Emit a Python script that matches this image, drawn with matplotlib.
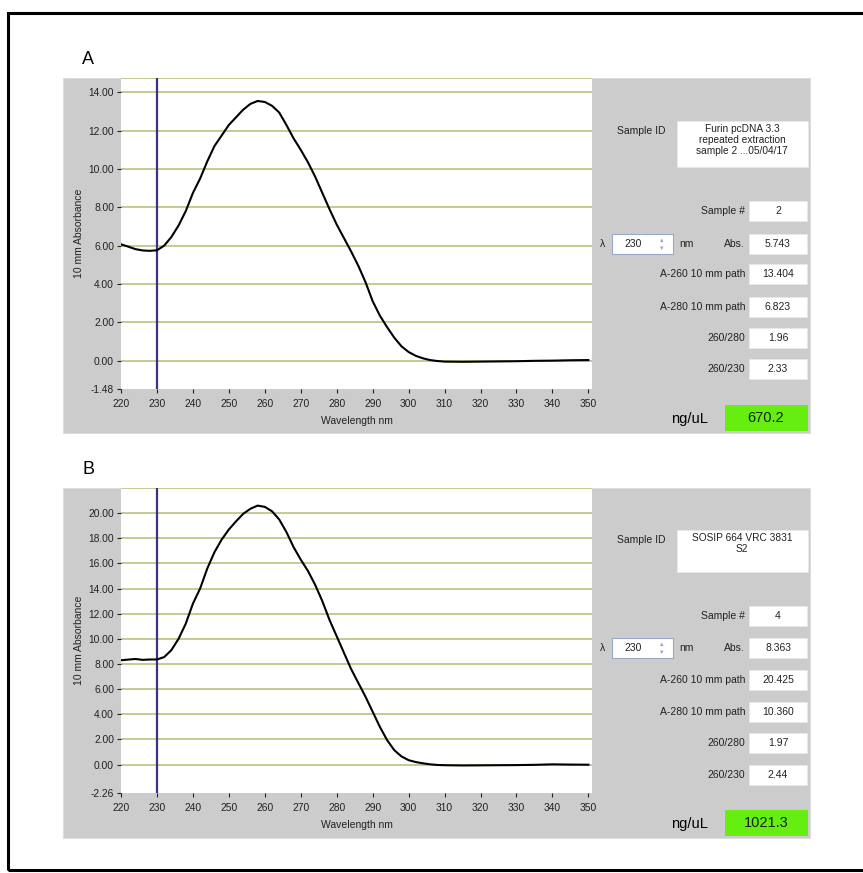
import numpy as np
import matplotlib
matplotlib.use("Agg")
import matplotlib.pyplot as plt
from matplotlib.patches import Rectangle

plt.rcParams['font.family'] = ['Liberation Sans', 'DejaVu Sans']

# Spectrum A: Furin pcDNA 3.3
wl_a = [220, 222, 224, 226, 228, 230, 232, 234, 236, 238, 240, 242, 244, 246, 248,
        250, 252, 254, 256, 258, 260, 262, 264, 266, 268, 270, 272, 274, 276, 278,
        280, 282, 284, 286, 288, 290, 292, 294, 296, 298, 300, 302, 304, 306, 308,
        310, 315, 320, 325, 330, 335, 340, 345, 350]
abs_a = [6.07, 5.95, 5.82, 5.75, 5.73, 5.76, 6.0, 6.45, 7.05, 7.8, 8.75, 9.5, 10.4, 11.2, 11.75,
         12.3, 12.7, 13.1, 13.4, 13.55, 13.5, 13.3, 12.95, 12.3, 11.6, 11.0, 10.35, 9.6, 8.75, 7.9,
         7.1, 6.4, 5.7, 4.95, 4.1, 3.1, 2.35, 1.75, 1.2, 0.75, 0.45, 0.25, 0.12, 0.03, -0.02,
         -0.05, -0.06, -0.05, -0.04, -0.03, -0.01, 0.0, 0.02, 0.03]

# Spectrum B: SOSIP 664 VRC 3831 S2
wl_b = wl_a
abs_b = [8.3, 8.35, 8.4, 8.33, 8.36, 8.36, 8.55, 9.1, 10.0, 11.2, 12.8, 14.0, 15.6, 16.9, 17.9,
         18.7, 19.35, 19.95, 20.35, 20.6, 20.5, 20.15, 19.5, 18.5, 17.3, 16.3, 15.4, 14.3, 13.0, 11.5,
         10.2, 8.9, 7.6, 6.5, 5.4, 4.2, 3.0, 1.95, 1.15, 0.65, 0.35, 0.2, 0.1, 0.02, -0.03,
         -0.05, -0.07, -0.06, -0.05, -0.04, -0.02, 0.02, 0.0, -0.01]

x_ticks = [220, 230, 240, 250, 260, 270, 280, 290, 300, 310, 320, 330, 340, 350]
y_ticks_a = [-1.48, 0, 2, 4, 6, 8, 10, 12, 14]
y_ticks_b = [-2.26, 0, 2, 4, 6, 8, 10, 12, 14, 16, 18, 20]
ylim_a = (-1.48, 14.75)
ylim_b = (-2.26, 22.0)
cursor_nm = 230

sample_id_a = "Furin pcDNA 3.3\nrepeated extraction\nsample 2 ...05/04/17"
sample_id_b = "SOSIP 664 VRC 3831\nS2"
row_labels = ["Sample #", "Abs.", "A-260 10 mm path", "A-280 10 mm path", "260/280", "260/230"]
values_a = ["2", "5.743", "13.404", "6.823", "1.96", "2.33"]
values_b = ["4", "8.363", "20.425", "10.360", "1.97", "2.44"]
conc_a = "670.2"
conc_b = "1021.3"

W, H = 863, 873
GREY = '#cccccc'
GRID = '#c8c890'
CURSOR = '#3a347e'
TXT = '#222222'

fig = plt.figure(figsize=(W / 100, H / 100), dpi=100)


def rect(x0, y0, x1, y1, **kw):
    fig.add_artist(Rectangle((x0 / W, 1 - y1 / H), (x1 - x0) / W, (y1 - y0) / H,
                             transform=fig.transFigure, **kw))


def text(x, y, s, **kw):
    fig.text(x / W, 1 - y / H, s, **kw)


# outer frame
rect(8, 13, 875, 870, facecolor='none', edgecolor='black', linewidth=2.2)


def panel(top, plot_h, grey_h, letter, wl, ab, yticks, ylim, sid, sid_top, sid_bot,
          vals, conc, rows_y):
    gtop, gbot = top, top + grey_h
    rect(63, gtop, 810, gbot, facecolor=GREY, edgecolor='#dddddd', linewidth=0.8, zorder=-5)
    text(88, top - 18, letter, fontsize=13, ha='center', va='center', color='black')

    # plot area
    ptop, pbot = top, top + plot_h
    ax = fig.add_axes([121 / W, 1 - pbot / H, (592 - 121) / W, (pbot - ptop) / H])
    ax.set_facecolor('white')
    ax.set_xlim(220, 351)
    ax.set_ylim(*ylim)
    for yv in yticks[1:]:
        ax.axhline(yv, color=GRID, linewidth=1.4, zorder=1)
    ax.axhline(ylim[1], color=GRID, linewidth=1.4, zorder=1)
    ax.axvline(cursor_nm, color=CURSOR, linewidth=1.6, zorder=2)
    ax.plot(wl, ab, color='black', linewidth=1.5, zorder=3)
    ax.set_xticks(x_ticks)
    ax.set_yticks(yticks)
    ax.set_yticklabels(['%.2f' % v for v in yticks])
    ax.tick_params(axis='both', labelsize=7.4, colors=TXT, length=3, width=0.8, pad=2)
    ax.tick_params(axis='x', pad=4)
    for s in ax.spines.values():
        s.set_visible(False)
    ax.set_xlabel('Wavelength nm', fontsize=7.5, color=TXT, labelpad=5)
    ax.set_ylabel('10 mm Absorbance', fontsize=7.5, color=TXT, labelpad=3)

    # info panel
    text(665, sid_top + 10, 'Sample ID', fontsize=7.5, ha='right', va='center', color=TXT)
    rect(677, sid_top, 808, sid_bot, facecolor='white', edgecolor='#e8e8e8', linewidth=0.6)
    text(742, sid_top + 3, sid, fontsize=7.3, ha='center', va='top', color=TXT, linespacing=1.15)
    for lab, v, yc in zip(row_labels, vals, rows_y):
        rect(749, yc - 10, 807, yc + 10, facecolor='white', edgecolor='#e8e8e8', linewidth=0.6)
        text(778, yc, v, fontsize=7.5, ha='center', va='center', color=TXT)
        text(745, yc, lab, fontsize=7.5, ha='right', va='center', color=TXT)
    # wavelength selector
    yl = rows_y[1]
    text(603, yl, 'λ', fontsize=7.5, ha='center', va='center', color=TXT)
    rect(612, yl - 10, 673, yl + 10, facecolor='white', edgecolor='#9aa8c8', linewidth=0.8)
    text(633, yl, str(cursor_nm), fontsize=7.5, ha='center', va='center', color=TXT)
    text(662, yl - 3, '▲', fontsize=4, ha='center', va='center', color='#8fa0c8')
    text(662, yl + 4, '▼', fontsize=4, ha='center', va='center', color='#8fa0c8')
    text(686, yl, 'nm', fontsize=7.5, ha='center', va='center', color=TXT)

    # concentration
    rect(725, gbot - 28, 808, gbot - 2, facecolor='#66ee11', edgecolor='none')
    text(766, gbot - 15, conc, fontsize=10.5, ha='center', va='center', color='#112211')
    text(689, gbot - 14, 'ng/uL', fontsize=10.5, ha='center', va='center', color='black')
    return ax


panel(78, 311, 355, 'A', wl_a, abs_a, y_ticks_a, ylim_a, sample_id_a, 121, 167,
      values_a, conc_a, [211, 244, 274, 307, 338, 369])
panel(488, 305, 350, 'B', wl_b, abs_b, y_ticks_b, ylim_b, sample_id_b, 530, 572,
      values_b, conc_b, [616, 648, 680, 712, 743, 775])

fig.savefig('out.png', dpi=100)
